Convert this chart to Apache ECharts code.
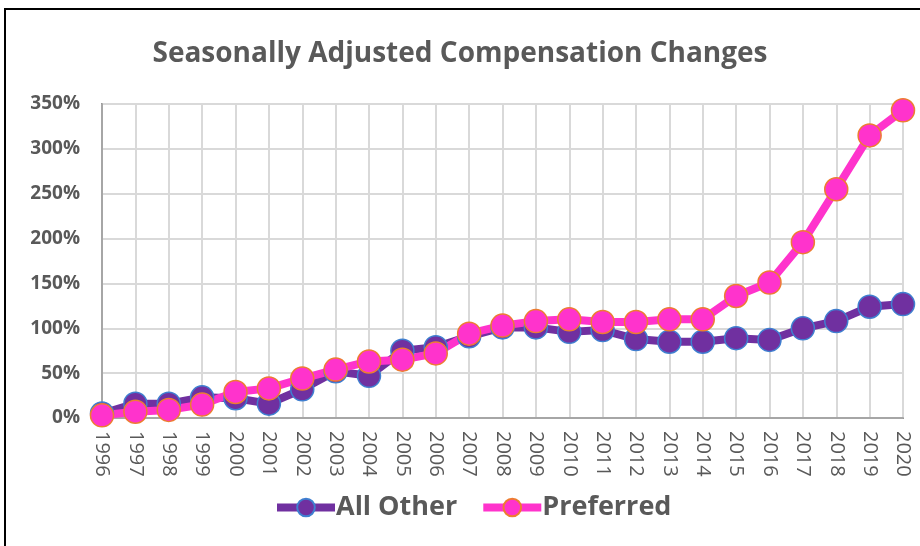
<!DOCTYPE html>
<html>
<head>
<meta charset="utf-8">
<script src="https://cdn.jsdelivr.net/npm/echarts@6/dist/echarts.min.js"></script>
<style>
html, body { margin: 0; padding: 0; background: #fff; }
#chart { width: 920px; height: 546px; }
</style>
</head>
<body>
<div id="chart"></div>
<script>
// values are percent change since 1996
const years = ['1996', '1997', '1998', '1999', '2000', '2001', '2002', '2003', '2004', '2005', '2006', '2007', '2008',
  '2009', '2010', '2011', '2012', '2013', '2014', '2015', '2016', '2017', '2018', '2019', '2020']
const allOther = [5, 16, 16, 23, 22, 16, 32, 52, 47, 75, 79, 91, 101, 101, 96, 98, 88, 85, 85, 89, 87, 100, 108, 124, 127]
const preferred = [3, 7, 9, 15, 29, 33, 44, 54, 63, 65, 72, 94, 103, 108, 110, 107, 107, 110, 110, 136, 151, 196, 255, 315, 343]
const seriesNames = ['All Other', 'Preferred']

const txt = '#595959'
const font = 'Open Sans'

const chart = echarts.init(document.getElementById('chart'))

const option = {
  animation: false,
  backgroundColor: '#fff',
  graphic: [{
    type: 'rect',
    shape: { x: 5, y: 9, width: 930, height: 560 },
    style: { fill: 'none', stroke: '#000', lineWidth: 2 },
    silent: true
  }],
  title: {
    text: 'Seasonally Adjusted Compensation Changes',
    left: 'center',
    top: 35,
    textStyle: { color: txt, fontFamily: font, fontWeight: 'bold', fontSize: 28 }
  },
  legend: {
    data: seriesNames,
    left: 268,
    top: 489,
    itemWidth: 58,
    itemHeight: 22,
    itemGap: 22,
    lineStyle: { width: 8 },
    textStyle: { color: txt, fontFamily: font, fontWeight: 'bold', fontSize: 27, padding: [0, 0, 0, -4] }
  },
  grid: {
    left: 102, right: 17, top: 104, bottom: 128,
    show: true, borderColor: '#000', borderWidth: 1.5
  },
  xAxis: {
    type: 'category',
    data: years,
    boundaryGap: false,
    axisLine: { lineStyle: { color: '#a6a6a6', width: 2 } },
    axisTick: { show: false },
    splitLine: { show: true, lineStyle: { color: '#d9d9d9', width: 2 } },
    axisLabel: { rotate: -90, margin: 13, color: txt, fontFamily: font, fontSize: 20, interval: 0 }
  },
  yAxis: {
    type: 'value',
    min: 0, max: 350, interval: 50,
    axisLine: { show: true, lineStyle: { color: '#a6a6a6', width: 2 } },
    axisTick: { show: false },
    splitLine: { lineStyle: { color: '#d9d9d9', width: 2 } },
    axisLabel: { formatter: '{value}%', margin: 22, color: txt, fontFamily: font, fontWeight: 'bold', fontSize: 19 }
  },
  series: [
    {
      name: seriesNames[0],
      type: 'line',
      data: allOther,
      symbol: 'circle',
      symbolSize: 23,
      lineStyle: { color: '#7030a0', width: 8 },
      itemStyle: { color: '#7030a0', borderColor: '#3f7fd0', borderWidth: 1.5 }
    },
    {
      name: seriesNames[1],
      type: 'line',
      data: preferred,
      symbol: 'circle',
      symbolSize: 23,
      lineStyle: { color: '#ff33cc', width: 8 },
      itemStyle: { color: '#ff33cc', borderColor: '#ed7d31', borderWidth: 1.5 }
    }
  ]
}

chart.setOption(option)
</script>
</body>
</html>
